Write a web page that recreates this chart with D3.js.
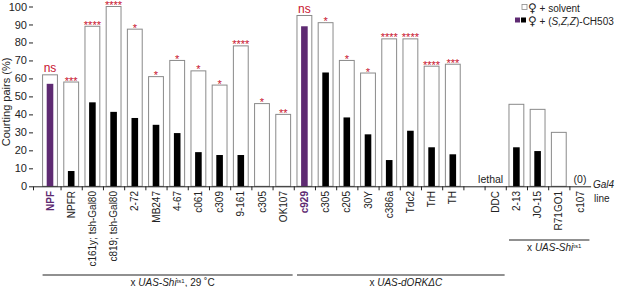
<!DOCTYPE html>
<html>
<head>
<meta charset="utf-8">
<script src="https://cdn.jsdelivr.net/npm/d3@7"></script>
<style>
  body { margin: 0; background: #fff; }
  text { font-family: Arial, "Liberation Sans", Helvetica, sans-serif; }
</style>
</head>
<body>
<div id="chart"></div>
<script>
// Gal4 lines (empty string = spacer slot)
var lines = ['NPF', 'NPFR', 'c161y; tsh-Gal80', 'c819; tsh-Gal80', '2-72', 'MB247',
  '4-67', 'c061', 'c309', '9-161', 'c305', 'OK107', 'c929', 'c305', 'c205', '30Y',
  'c386a', 'Tdc2', 'TrH', 'TH', '', 'DDC', '2-13', 'JO-15', 'R71GO1', 'c107'];
// % courting pairs, female + solvent
var solvent = [62, 58, 89, 100, 87.4, 61, 70, 64.2, 56.3, 78.1, 46, 40, 95, 91, 70,
  63, 82, 82, 66.8, 67.9, null, null, 45.6, 42.8, 30, 0];
// % courting pairs, female + (S,Z,Z)-CH503
var ch503 = [57, 8.5, 46.7, 41.4, 38, 34.2, 29.6, 19, 17.4, 17.4, 0, 0, 89, 63.3, 38.3,
  28.9, 14.6, 30.9, 21.7, 17.8, null, null, 21.7, 19.6, 0, 0];
var signif = ['ns', '***', '****', '****', '*', '*', '*', '*', '*', '****', '*', '**',
  'ns', '*', '*', '*', '****', '****', '****', '***', '', '', '', '', '', ''];
var notes = ['', '', '', '', '', '', '', '', '', '', '', '', '', '', '', '', '', '', '',
  '', '', 'lethal', '', '', '', '(0)'];
var controls = [0, 12];
var yTicks = [0, 10, 20, 30, 40, 50, 60, 70, 80, 90, 100];

var chartWidth = 617;
var chartHeight = 287;
var purple = '#5e2a72';
var red = '#c8102e';

var svg = d3.select('#chart')
    .append('svg')
    .attr('width', chartWidth)
    .attr('height', chartHeight);

// Scales
var idx = d3.range(lines.length);
var scaleX = d3.scaleBand()
    .domain(idx)
    .range([39.4, 590.6])
    .paddingInner(0.3)
    .paddingOuter(0.15);
var bw = scaleX.bandwidth();
var center = function(i) { return scaleX(i) + bw / 2; };

var scaleY = d3.scaleLinear()
    .domain([0, 100])
    .range([186.3, 6.5]);

// Y axis (no domain line)
var axisY = d3.axisLeft(scaleY).tickValues(yTicks).tickSize(4).tickPadding(2);
var gy = svg.append('g')
    .attr('transform', 'translate(33,0)')
    .call(axisY);
gy.select('.domain').remove();
gy.selectAll('text').attr('font-size', 11).attr('fill', '#222')
    .attr('font-family', 'Arial, "Liberation Sans", sans-serif');
gy.selectAll('line').attr('stroke', '#222');

svg.append('text')
    .attr('transform', 'translate(10,' + 102 + ') rotate(-90)')
    .attr('text-anchor', 'middle')
    .attr('font-size', 11)
    .attr('fill', '#222')
    .text('Courting pairs (%)');

// Bars
var bars = svg.append('g');
bars.selectAll('rect.solvent')
    .data(idx.filter(function(i) { return solvent[i] !== null; }))
    .enter()
    .append('rect')
    .attr('class', 'solvent')
    .attr('x', function(i) { return scaleX(i); })
    .attr('y', function(i) { return scaleY(solvent[i]); })
    .attr('width', bw)
    .attr('height', function(i) { return scaleY(0) - scaleY(solvent[i]); })
    .attr('fill', '#fff')
    .attr('stroke', '#8a8a8a')
    .attr('stroke-width', 1);

bars.selectAll('rect.ch503')
    .data(idx.filter(function(i) { return ch503[i]; }))
    .enter()
    .append('rect')
    .attr('class', 'ch503')
    .attr('x', function(i) { return center(i) - 3.3; })
    .attr('y', function(i) { return scaleY(ch503[i]); })
    .attr('width', 6.6)
    .attr('height', function(i) { return scaleY(0) - scaleY(ch503[i]); })
    .attr('fill', function(i) { return controls.indexOf(i) >= 0 ? purple : '#000'; });

// Significance marks
svg.append('g').selectAll('text')
    .data(idx.filter(function(i) { return signif[i]; }))
    .enter()
    .append('text')
    .attr('x', function(i) { return center(i); })
    .attr('y', function(i) {
      return signif[i] === 'ns' ? scaleY(solvent[i]) - 2.5 : scaleY(solvent[i]) + 2.5;
    })
    .attr('text-anchor', 'middle')
    .attr('font-size', function(i) { return signif[i] === 'ns' ? 12 : 11; })
    .attr('fill', red)
    .text(function(i) { return signif[i]; });

// Notes (lethal, (0))
svg.append('g').selectAll('text')
    .data(idx.filter(function(i) { return notes[i]; }))
    .enter()
    .append('text')
    .attr('x', function(i) { return center(i); })
    .attr('y', 182.5)
    .attr('text-anchor', function(i) { return notes[i] === 'lethal' ? 'end' : 'middle'; })
    .attr('dx', function(i) { return notes[i] === 'lethal' ? 8 : 0; })
    .attr('font-size', 10.5)
    .attr('fill', '#222')
    .text(function(i) { return notes[i]; });

// X axis: line with ticks between bars
var scaleEdge = d3.scaleLinear()
    .domain([-0.3, lines.length])
    .range([33, 590.6]);
var axisX = d3.axisBottom(scaleEdge)
    .tickValues([-0.3].concat(d3.range(1, lines.length)))
    .tickFormat('')
    .tickSize(4)
    .tickSizeOuter(0);
var gx = svg.append('g')
    .attr('transform', 'translate(0,186.3)')
    .call(axisX);
gx.selectAll('path,line').attr('stroke', '#222');

// Category labels
svg.append('g').selectAll('text')
    .data(idx.filter(function(i) { return lines[i]; }))
    .enter()
    .append('text')
    .attr('transform', function(i) {
      return 'translate(' + (center(i) + 3.6) + ',191) rotate(-90)';
    })
    .attr('text-anchor', 'end')
    .attr('font-size', 10)
    .attr('font-weight', function(i) { return controls.indexOf(i) >= 0 ? 'bold' : 'normal'; })
    .attr('fill', function(i) { return controls.indexOf(i) >= 0 ? purple : '#222'; })
    .text(function(i) { return lines[i]; });

svg.append('text').attr('x', 593).attr('y', 187.5).attr('font-size', 10)
    .attr('font-style', 'italic').attr('fill', '#222').text('Gal4');
svg.append('text').attr('x', 594).attr('y', 201.5).attr('font-size', 10)
    .attr('fill', '#222').text('line');

// Group brackets
var groups = [
  {from: 0, to: 11, y: 275, label: 'shi29'},
  {from: 12, to: 21, y: 275, label: 'dork'},
  {from: 22, to: 25, y: 240, label: 'shi'}
];
groups.forEach(function(g) {
  var x0 = scaleX(g.from);
  var x1 = scaleX(g.to) + bw + 2;
  svg.append('line')
      .attr('x1', x0).attr('x2', x1)
      .attr('y1', g.y).attr('y2', g.y)
      .attr('stroke', '#222').attr('stroke-width', 1.2);
  var t = svg.append('text')
      .attr('x', (x0 + x1) / 2 + 5)
      .attr('y', g.y + 10.5)
      .attr('text-anchor', 'middle')
      .attr('font-size', 10)
      .attr('fill', '#222');
  t.append('tspan').text('x ');
  if (g.label === 'dork') {
    t.append('tspan').attr('font-style', 'italic').text('UAS-dORK\u0394C');
  } else {
    t.append('tspan').attr('font-style', 'italic').text('UAS-Shi');
    t.append('tspan').attr('font-size', 6).attr('dy', -3).text('ts1');
    if (g.label === 'shi29') {
      t.append('tspan').attr('dy', 3).text(', 29 \u02DAC');
    }
  }
});

// Legend
var legend = svg.append('g');
var venus = function(t) {
  t.append('tspan').attr('font-family', '"DejaVu Sans", sans-serif')
      .attr('font-size', 12).text('\u2640');
};
legend.append('rect').attr('x', 522).attr('y', 4.5).attr('width', 5).attr('height', 5)
    .attr('fill', '#fff').attr('stroke', '#8a8a8a').attr('stroke-width', 0.8);
var ls = legend.append('text').attr('x', 528).attr('y', 11.5).attr('font-size', 10)
    .attr('fill', '#222');
venus(ls);
ls.append('tspan').text(' + solvent');
legend.append('rect').attr('x', 515).attr('y', 17.5).attr('width', 5).attr('height', 5)
    .attr('fill', purple);
legend.append('rect').attr('x', 521).attr('y', 17.5).attr('width', 5).attr('height', 5)
    .attr('fill', '#000');
var lt = legend.append('text').attr('x', 528).attr('y', 24.5).attr('font-size', 10)
    .attr('fill', '#222');
venus(lt);
lt.append('tspan').text(' + (');
lt.append('tspan').attr('font-style', 'italic').text('S,Z,Z');
lt.append('tspan').text(')-CH503');
</script>
</body>
</html>
